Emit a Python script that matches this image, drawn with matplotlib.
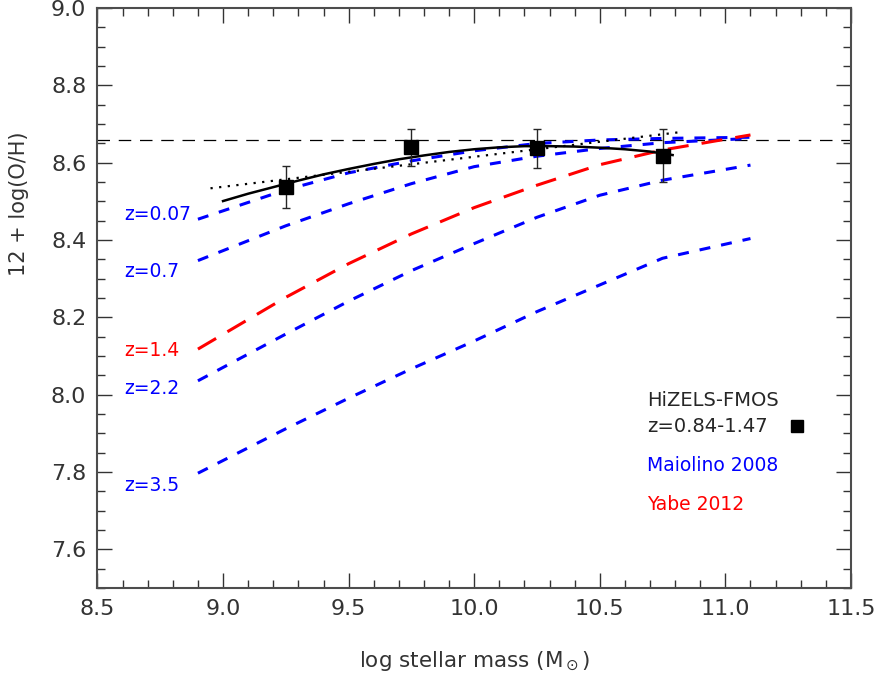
import matplotlib.pyplot as plt
from matplotlib.ticker import MultipleLocator

# HiZELS-FMOS stacked points
mass = [9.25, 9.75, 10.25, 10.75]
oh = [8.537, 8.640, 8.637, 8.618]
oh_err = [0.055, 0.048, 0.050, 0.069]

# solid fit through the points
fit_m = [9.0, 9.1, 9.2, 9.3, 9.4, 9.5, 9.6, 9.7, 9.8, 9.9, 10.0,
         10.1, 10.2, 10.3, 10.4, 10.5, 10.6, 10.7, 10.79]
fit_oh = [8.501, 8.520, 8.537, 8.554, 8.570, 8.584, 8.597, 8.609, 8.619, 8.628, 8.635,
          8.640, 8.643, 8.643, 8.642, 8.639, 8.635, 8.629, 8.620]

# dotted line
dot_m = [8.95, 10.83]
dot_oh = [8.534, 8.680]

solar = 8.66

# Maiolino 2008 / Yabe 2012 relations
rel_m = [8.9, 9.25, 9.5, 9.75, 10.0, 10.25, 10.5, 10.75, 11.1]
mai_z007 = [8.454, 8.530, 8.574, 8.605, 8.631, 8.650, 8.659, 8.663, 8.666]
mai_z07 = [8.347, 8.437, 8.494, 8.546, 8.590, 8.617, 8.637, 8.652, 8.663]
mai_z22 = [8.036, 8.157, 8.242, 8.321, 8.391, 8.459, 8.516, 8.555, 8.594]
mai_z35 = [7.797, 7.912, 7.991, 8.067, 8.139, 8.215, 8.284, 8.353, 8.404]
yabe_z14 = [8.118, 8.252, 8.339, 8.416, 8.484, 8.542, 8.595, 8.633, 8.672]

z_labels = ['z=0.07', 'z=0.7', 'z=1.4', 'z=2.2', 'z=3.5']
z_label_y = [8.465, 8.318, 8.114, 8.015, 7.766]
z_label_col = ['blue', 'blue', 'red', 'blue', 'blue']

fig = plt.figure(figsize=(8.75, 6.79), dpi=100)
ax = fig.add_axes([0.1114, 0.134, 0.8611, 0.854])

ax.axhline(solar, color='k', lw=0.9, dashes=(10, 7))

for y in [mai_z007, mai_z07, mai_z22, mai_z35]:
    ax.plot(rel_m, y, color='blue', lw=2.2, dashes=(3.6, 3.6))
ax.plot(rel_m, yabe_z14, color='red', lw=2.2, dashes=(6.9, 4.3))

ax.plot(dot_m, dot_oh, color='k', lw=1.6, dashes=(1, 2.9))
ax.plot(fit_m, fit_oh, color='k', lw=1.8)

ax.errorbar(mass, oh, yerr=oh_err, fmt='s', color='k', ms=10,
            ecolor='0.15', elinewidth=1, capsize=3, capthick=1)

for lab, yy, c in zip(z_labels, z_label_y, z_label_col):
    ax.text(8.605, yy, lab, color=c, fontsize=13.5, va='center', ha='left')

ax.text(10.688, 7.984, 'HiZELS-FMOS', color='0.15', fontsize=14, va='center')
ax.text(10.688, 7.917, 'z=0.84-1.47', color='0.15', fontsize=14, va='center')
ax.plot([0.928], [0.28], 's', color='k', ms=8.5, transform=ax.transAxes, clip_on=False)
ax.text(10.688, 7.816, 'Maiolino 2008', color='blue', fontsize=13.5, va='center')
ax.text(10.688, 7.715, 'Yabe 2012', color='red', fontsize=13.5, va='center')

ax.set_xlim(8.5, 11.5)
ax.set_ylim(7.5, 9.0)
ax.xaxis.set_major_locator(MultipleLocator(0.5))
ax.xaxis.set_minor_locator(MultipleLocator(0.1))
ax.yaxis.set_major_locator(MultipleLocator(0.2))
ax.yaxis.set_minor_locator(MultipleLocator(0.05))
ax.xaxis.set_major_formatter(plt.FormatStrFormatter('%.1f'))
ax.yaxis.set_major_formatter(plt.FormatStrFormatter('%.1f'))

ax.tick_params(which='both', direction='in', top=True, right=True, colors='0.2')
ax.tick_params(which='major', length=10.5, width=1, labelsize=16, pad=8)
ax.tick_params(which='minor', length=5.5, width=1)
for s in ax.spines.values():
    s.set_color('0.3')
    s.set_linewidth(1.5)

ax.set_xlabel(r'log stellar mass (M$_\odot$)', fontsize=15.5, color='0.2')
ax.set_ylabel('12 + log(O/H)', fontsize=15, color='0.2')
ax.xaxis.set_label_coords(0.5, -0.105)
ax.yaxis.set_label_coords(-0.091, 0.662)

fig.savefig('out.png', dpi=100)
